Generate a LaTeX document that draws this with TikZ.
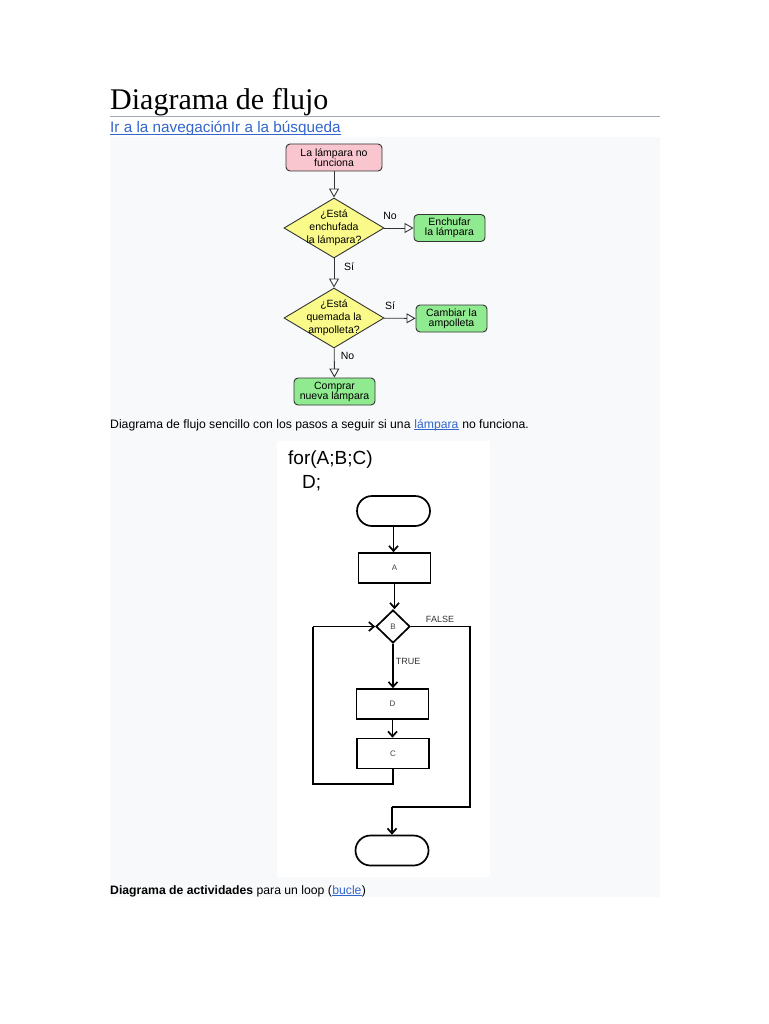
\documentclass[tikz,border=0pt]{standalone}
\usepackage{fontspec}
\setmainfont{Liberation Sans}
\newfontfamily\titlefont{Liberation Serif}
\usetikzlibrary{arrows.meta,shapes.geometric}
\definecolor{linkblue}{HTML}{3366CC}
\definecolor{panelbg}{HTML}{F8F9FA}
\definecolor{rulegray}{HTML}{A2A9B1}
\definecolor{pinkfill}{HTML}{F9C6CF}
\definecolor{greenfill}{HTML}{90EA90}
\definecolor{yellowfill}{HTML}{FAFA8A}
\definecolor{labgray}{HTML}{444444}
\tikzset{
  fbox/.style={draw=black!80, line width=0.9pt, rounded corners=4pt, align=center,
    font=\fontsize{10.5}{10}\selectfont, inner sep=1pt, minimum height=27pt},
  fdia/.style={draw=black!80, line width=0.9pt, diamond, fill=yellowfill, inner sep=0pt,
    minimum width=100pt, minimum height=60pt},
  fdiatext/.style={align=center, font=\fontsize{10.5}{12.8}\selectfont},
  farrow/.style={draw=black!80, line width=0.9pt, -{Triangle[open, length=9pt, width=10pt, fill=white]}},
  flab/.style={font=\fontsize{10.5}{12}\selectfont},
  lbox/.style={draw=black, line width=1.7pt, minimum width=72pt, minimum height=30pt,
    font=\fontsize{8}{9}\selectfont, text=labgray},
  lterm/.style={draw=black, line width=1.7pt, rounded corners=15pt, minimum width=73pt, minimum height=30pt},
  larrow/.style={draw=black, line width=1.7pt, -{Straight Barb[length=5pt, width=9pt]}},
  lline/.style={draw=black, line width=1.7pt},
  llab/.style={font=\fontsize{9}{10}\selectfont, text=black!80},
  bodytext/.style={font=\fontsize{12.2}{14}\selectfont, inner sep=0pt, anchor=base west},
  uline/.style={linkblue, line width=0.7pt},
}
\begin{document}
\begin{tikzpicture}[x=1pt, y=-1pt]
\useasboundingbox (0,0) rectangle (768,1024);
\fill[white] (0,0) rectangle (768,1024);
% panel
\fill[panelbg] (110,137) rectangle (660,897);
% title
\node[anchor=base west, inner sep=0pt, font=\titlefont\fontsize{30}{32}\selectfont] (title) at (110,110) {Diagrama de flujo};
\draw[rulegray, line width=0.8pt] (110,116.5) -- (660,116.5);
\node[anchor=base west, inner sep=0pt, font=\fontsize{15.3}{17}\selectfont, text=linkblue] (nav) at (110,133) {Ir a la navegaciónIr a la búsqueda};
\draw[uline] ([yshift=-1.8pt]nav.base west) -- ([yshift=-1.8pt]nav.base east);

% first flowchart
\node[fbox, fill=pinkfill, minimum width=96pt] (n1) at (334,157.5) {La lámpara no\\funciona};
\node[fdia, label={[fdiatext]center:¿Está\\enchufada\\la lámpara?}] (d1) at (334,228) {};
\node[fbox, fill=greenfill, minimum width=71pt] (n2) at (449.5,228) {Enchufar\\la lámpara};
\node[fdia, label={[fdiatext]center:¿Está\\quemada la\\ampolleta?}] (d2) at (334,318) {};
\node[fbox, fill=greenfill, minimum width=71pt] (n3) at (451.5,318.5) {Cambiar la\\ampolleta};
\node[fbox, fill=greenfill, minimum width=81pt] (n4) at (334.5,391.5) {Comprar\\nueva lámpara};
\draw[farrow] (n1) -- (d1);
\draw[farrow] (d1) -- (n2);
\draw[farrow] (d1) -- (d2);
\draw[farrow] (d2) -- (n3);
\draw[farrow] (d2) -- (n4);
\node[flab] (l1) at (390,215.5) {No};
\node[flab] (l2) at (349,267) {Sí};
\node[flab] (l3) at (390,306) {Sí};
\node[flab] (l4) at (347.5,356) {No};

% caption 1
\node[bodytext] (cap1a) at (110,428) {Diagrama de flujo sencillo con los pasos a seguir si una\ \mbox{}};
\node[bodytext, text=linkblue] (cap1b) at (cap1a.base east) {lámpara};
\draw[uline] ([yshift=-1.6pt]cap1b.base west) -- ([yshift=-1.6pt]cap1b.base east);
\node[bodytext] (cap1c) at (cap1b.base east) {\ no funciona.};

% second image
\fill[white] (277,441) rectangle (490,877);
\node[anchor=base west, inner sep=0pt, font=\fontsize{19}{20}\selectfont] (code1) at (288,464) {for(A;B;C)};
\node[anchor=base west, inner sep=0pt, font=\fontsize{19}{20}\selectfont] (code2) at (302,488) {D;};
\node[lterm] (start) at (393.5,511) {};
\node[lbox] (A) at (394.5,568) {A};
\node[draw=black, line width=1.7pt, diamond, minimum width=34pt, minimum height=33pt, inner sep=0pt, font=\fontsize{8}{9}\selectfont, text=labgray] (B) at (393,626.5) {B};
\node[lbox] (D) at (392.5,704) {D};
\node[lbox] (C) at (393,753.5) {C};
\node[lterm] (stop) at (392,850.5) {};
\coordinate (fr) at (470,626.5);
\coordinate (fb) at (470,807);
\coordinate (lb) at (313,784);
\draw[larrow] (start) -- (start |- A.north);
\draw[larrow] (A) -- (A |- B.north);
\draw[larrow] (B) -- (B |- D.north);
\draw[larrow] (D) -- (D |- C.north);
\draw[lline, line join=miter] (B.east) -- (fr) -- (fb) -- (fb -| stop.north);
\draw[larrow] (fb -| stop.north) -- (stop.north);
\draw[lline, line join=miter] (C.south) |- (lb) -- (lb |- B.west);
\draw[larrow] (lb |- B.west) -- (B.west);
\node[llab] (lf) at (440,619) {FALSE};
\node[llab] (lt) at (408,661.5) {TRUE};

% caption 2
\node[bodytext] (cap2a) at (110,894) {\textbf{Diagrama de actividades} para un loop (};
\node[bodytext, text=linkblue] (cap2b) at (cap2a.base east) {bucle};
\draw[uline] ([yshift=-1.6pt]cap2b.base west) -- ([yshift=-1.6pt]cap2b.base east);
\node[bodytext] (cap2c) at (cap2b.base east) {)};
\end{tikzpicture}
\end{document}
